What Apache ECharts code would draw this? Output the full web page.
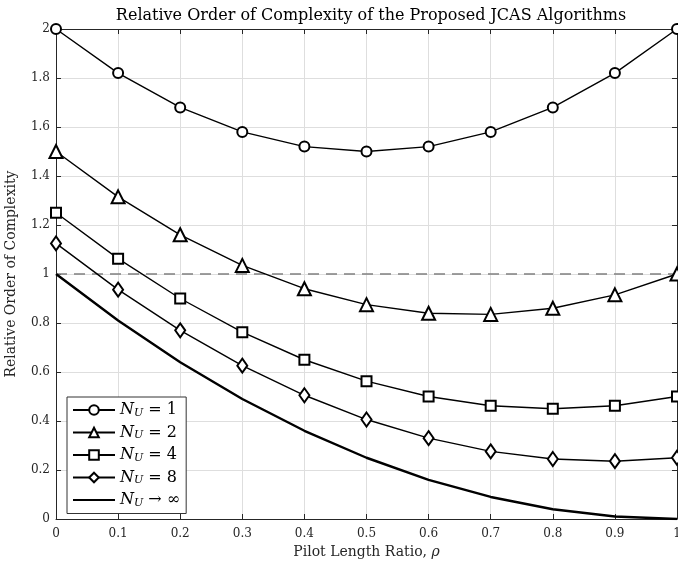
<!DOCTYPE html>
<html>
<head>
<meta charset="utf-8">
<script src="https://cdn.jsdelivr.net/npm/echarts@6/dist/echarts.min.js"></script>
<style>
  html, body { margin: 0; padding: 0; background: #fff; overflow: hidden; }
  #chart { width: 678px; height: 561px; }
</style>
</head>
<body>
<div id="chart"></div>
<script>
const FONT = 'DejaVu Serif'

const rho = [0, 0.1, 0.2, 0.3, 0.4, 0.5, 0.6, 0.7, 0.8, 0.9, 1]
const nu1 = [2, 1.82, 1.68, 1.58, 1.52, 1.5, 1.52, 1.58, 1.68, 1.82, 2]
const nu2 = [1.5, 1.315, 1.16, 1.035, 0.94, 0.875, 0.84, 0.835, 0.86, 0.915, 1]
const nu4 = [1.25, 1.0625, 0.9, 0.7625, 0.65, 0.5625, 0.5, 0.4625, 0.45, 0.4625, 0.5]
const nu8 = [1.125, 0.936, 0.77, 0.626, 0.505, 0.406, 0.33, 0.276, 0.245, 0.236, 0.25]
const nuInf = [1, 0.81, 0.64, 0.49, 0.36, 0.25, 0.16, 0.09, 0.04, 0.01, 0]

const legendLabels = {
  NU1: '{i|N}{s|U}{t| = 1}',
  NU2: '{i|N}{s|U}{t| = 2}',
  NU4: '{i|N}{s|U}{t| = 4}',
  NU8: '{i|N}{s|U}{t| = 8}',
  NUinf: '{i|N}{s|U}{t| → ∞}',
}

const pairs = (ys) => rho.map((x, i) => [x, ys[i]])

const markerStyle = {
  color: '#fff',
  borderColor: '#000',
  borderWidth: 2,
}

const lineSeries = (name, ys, symbol, size) => ({
  name,
  type: 'line',
  data: pairs(ys),
  symbol,
  symbolSize: size,
  showAllSymbol: true,
  lineStyle: { color: '#000', width: 1.4 },
  itemStyle: markerStyle,
  z: 3,
})

const chart = echarts.init(document.getElementById('chart'), null, { renderer: 'canvas' })

const axisLine = { show: true, onZero: false, lineStyle: { color: '#262626', width: 1 } }
const tickIn = { show: true, inside: true, length: 5, lineStyle: { color: '#262626' } }
const grid = { show: true, lineStyle: { color: '#dedede', width: 1 } }
const tickLabel = { fontFamily: FONT, fontSize: 12, color: '#262626' }

chart.setOption({
  animation: false,
  backgroundColor: '#fff',
  title: {
    text: 'Relative Order of Complexity of the Proposed JCAS Algorithms',
    left: 366,
    textAlign: 'center',
    top: 3,
    textStyle: { fontFamily: FONT, fontSize: 16, fontWeight: 'normal', color: '#000' },
  },
  grid: { left: 56, right: 1, top: 29, bottom: 42, containLabel: false, outerBoundsMode: 'none' },
  xAxis: [
    {
      type: 'value', min: 0, max: 1, interval: 0.1,
      axisLine, axisTick: tickIn, splitLine: grid,
      axisLabel: { ...tickLabel, margin: 9 },
      name: '{a|Pilot Length Ratio, }{i|ρ}',
      nameLocation: 'middle', nameGap: 26,
      nameTextStyle: {
        rich: {
          a: { fontFamily: FONT, fontSize: 14, color: '#262626' },
          i: { fontFamily: FONT, fontSize: 14, fontStyle: 'italic', color: '#262626' },
        },
      },
    },
    {
      type: 'value', min: 0, max: 1, interval: 0.1, position: 'top',
      axisLine, axisTick: tickIn, splitLine: { show: false }, axisLabel: { show: false },
    },
  ],
  yAxis: [
    {
      type: 'value', min: 0, max: 2, interval: 0.2,
      axisLine, axisTick: tickIn, splitLine: grid,
      axisLabel: { ...tickLabel, margin: 6 },
      name: 'Relative Order of Complexity',
      nameLocation: 'middle', nameGap: 38,
      nameTextStyle: { fontFamily: FONT, fontSize: 14, color: '#262626' },
    },
    {
      type: 'value', min: 0, max: 2, interval: 0.2, position: 'right',
      axisLine, axisTick: tickIn, splitLine: { show: false }, axisLabel: { show: false },
    },
  ],
  legend: {
    data: [
      'NU1', 'NU2', 'NU4', 'NU8',
      { name: 'NUinf', itemStyle: { opacity: 0 } },
    ],
    orient: 'vertical',
    left: 67,
    top: 397,
    itemWidth: 42,
    itemHeight: 12,
    itemGap: 6,
    padding: [5, 6, 5, 5],
    backgroundColor: '#fff',
    borderColor: '#333',
    borderWidth: 1,
    borderRadius: 0,
    formatter: (name) => legendLabels[name],
    textStyle: {
      rich: {
        i: { fontFamily: FONT, fontSize: 16, fontStyle: 'italic', color: '#000' },
        s: { fontFamily: FONT, fontSize: 11, fontStyle: 'italic', color: '#000', verticalAlign: 'bottom', padding: [6, 0, 0, 0] },
        t: { fontFamily: FONT, fontSize: 16, color: '#000' },
      },
    },
  },
  series: [
    {
      ...lineSeries('NU1', nu1, 'circle', 10),
      markLine: {
        silent: true,
        symbol: 'none',
        label: { show: false },
        lineStyle: { color: '#808080', type: [11, 7], width: 1.5 },
        data: [{ yAxis: 1 }],
        z: 1,
      },
    },
    lineSeries('NU2', nu2, 'triangle', 13),
    lineSeries('NU4', nu4, 'rect', 10),
    lineSeries('NU8', nu8, 'diamond', [10, 14]),
    {
      name: 'NUinf',
      type: 'line',
      data: pairs(nuInf),
      symbol: 'none',
      lineStyle: { color: '#000', width: 2.4 },
      itemStyle: { color: '#000' },
      z: 3,
    },
  ],
})
</script>
</body>
</html>
